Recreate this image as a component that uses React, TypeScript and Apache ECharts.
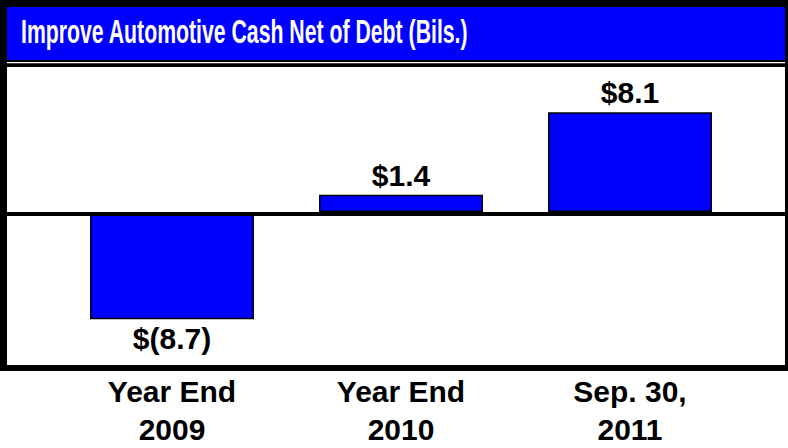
import React, { useEffect, useRef } from "react";
import * as echarts from "echarts";

const titleText = "Improve Automotive Cash Net of Debt (Bils.)";
const categories = ["Year End\n2009", "Year End\n2010", "Sep. 30,\n2011"];
const values = [-8.7, 1.4, 8.1];
const yMin = -12.08;
const yMax = 11.76;

const FONT = "'Liberation Sans', Arial, Helvetica, sans-serif";

function fmt(v: number): string {
  return v < 0 ? "$(" + Math.abs(v).toFixed(1) + ")" : "$" + v.toFixed(1);
}

export default function App() {
  const ref = useRef<HTMLDivElement>(null);
  useEffect(() => {
    if (!ref.current) return;
    const chart = echarts.init(ref.current, null, { renderer: "svg" });
    chart.setOption({
      animation: false,
      backgroundColor: "#ffffff",
      graphic: [
        { type: "rect", z: -10, shape: { x: 0, y: 0, width: 788, height: 371 }, style: { fill: "#000000" } },
        { type: "rect", z: -9, shape: { x: 7, y: 7, width: 778, height: 53 }, style: { fill: "#0000FF" } },
        { type: "rect", z: -9, shape: { x: 7, y: 62, width: 778, height: 1.3 }, style: { fill: "#ffffff" } },
        { type: "rect", z: -9, shape: { x: 7, y: 67, width: 778, height: 298 }, style: { fill: "#ffffff" } },
        {
          type: "text",
          z: 10,
          x: 21,
          y: 31.4,
          scaleX: 0.625,
          style: {
            text: titleText,
            fill: "#ffffff",
            font: "bold 34px " + FONT,
            verticalAlign: "middle",
            align: "left",
          },
        },
      ],
      grid: [
        { left: 57.5, right: 43.5, top: 67, bottom: 83 },
        { left: 7, right: 3, top: 67, bottom: 83 },
      ],
      xAxis: [
        {
          type: "category",
          gridIndex: 0,
          data: categories,
          axisLine: { show: false, onZero: false },
          axisTick: { show: false },
          splitLine: { show: false },
          axisLabel: {
            margin: 11,
            color: "#000000",
            fontFamily: FONT,
            fontWeight: "bold",
            fontSize: 30,
            lineHeight: 38,
            align: "center",
          },
        },
        {
          type: "value",
          gridIndex: 1,
          min: 0,
          max: 1,
          z: 5,
          axisLine: { show: true, onZero: true, lineStyle: { color: "#000000", width: 4 } },
          axisTick: { show: false },
          axisLabel: { show: false },
          splitLine: { show: false },
        },
      ],
      yAxis: [
        { type: "value", gridIndex: 0, min: yMin, max: yMax, show: false, splitLine: { show: false } },
        { type: "value", gridIndex: 1, min: yMin, max: yMax, show: false, splitLine: { show: false } },
      ],
      series: [
        {
          type: "bar",
          xAxisIndex: 0,
          yAxisIndex: 0,
          barWidth: 164,
          data: values.map((v) => ({
            value: v,
            label: { position: v < 0 ? "bottom" : "top" },
          })),
          itemStyle: { color: "#0000FF", borderColor: "#000000", borderWidth: 1.5 },
          label: {
            show: true,
            distance: 5,
            formatter: (p: any) => fmt(p.value),
            color: "#000000",
            fontFamily: FONT,
            fontWeight: "bold",
            fontSize: 30,
            lineHeight: 29,
          },
        },
      ],
    });
    return () => chart.dispose();
  }, []);
  return (
    <div
      ref={ref}
      style={{ position: "absolute", left: 0, top: 0, width: 788, height: 448 }}
    />
  );
}
